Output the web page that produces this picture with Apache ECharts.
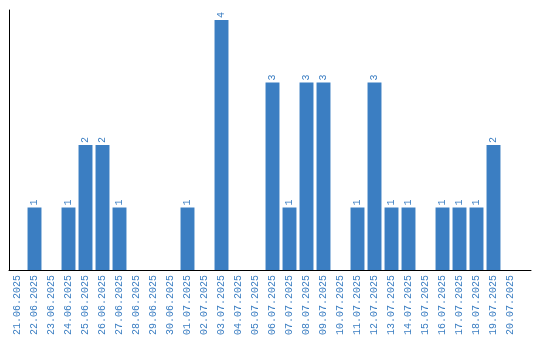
<!DOCTYPE html>
<html><head><meta charset="utf-8">
<script src="https://cdn.jsdelivr.net/npm/echarts@6/dist/echarts.min.js"></script>
<style>html,body{margin:0;padding:0;background:#fff}#c{width:540px;height:340px}</style>
</head><body><div id="c"></div>
<script>
var categories = ["21.06.2025","22.06.2025","23.06.2025","24.06.2025","25.06.2025","26.06.2025","27.06.2025","28.06.2025","29.06.2025","30.06.2025","01.07.2025","02.07.2025","03.07.2025","04.07.2025","05.07.2025","06.07.2025","07.07.2025","08.07.2025","09.07.2025","10.07.2025","11.07.2025","12.07.2025","13.07.2025","14.07.2025","15.07.2025","16.07.2025","17.07.2025","18.07.2025","19.07.2025","20.07.2025"];
var values = [0,1,0,1,2,2,1,0,0,0,1,0,4,0,0,3,1,3,3,0,1,3,1,1,0,1,1,1,2,0];
var blue = '#3b7ec2';
var font = 'Liberation Mono';
var chart = echarts.init(document.getElementById('c'));
chart.setOption({
  animation: false,
  grid: [
    {left: 9, width: 510, top: 10, bottom: 70, containLabel: false},
    {left: 9, right: 9, top: 10, bottom: 70, containLabel: false}
  ],
  xAxis: [{
    type: 'category', data: categories, gridIndex: 0,
    axisLine: {show: false},
    axisTick: {show: false},
    axisLabel: {rotate: 90, interval: 0, color: blue, fontFamily: font, fontSize: 10, margin: 5}
  }, {
    type: 'value', gridIndex: 1, min: 0, max: 1,
    axisLine: {show: true, onZero: false, lineStyle: {color: '#000', width: 1}},
    axisTick: {show: false}, axisLabel: {show: false}, splitLine: {show: false}
  }],
  yAxis: [{
    type: 'value', min: 0, max: 4.16, gridIndex: 0,
    axisLine: {show: true, lineStyle: {color: '#000', width: 1}},
    axisTick: {show: false}, axisLabel: {show: false}, splitLine: {show: false}
  }, {
    type: 'value', gridIndex: 1, show: false, min: 0, max: 1
  }],
  series: [{
    type: 'bar', data: values, barCategoryGap: '18%',
    itemStyle: {color: blue},
    label: {
      show: true, position: 'top', rotate: 90, align: 'left', verticalAlign: 'middle',
      distance: 2, color: blue, fontFamily: font, fontSize: 10,
      formatter: function(p){ return p.value > 0 ? p.value : ''; }
    }
  }]
});
</script></body></html>
